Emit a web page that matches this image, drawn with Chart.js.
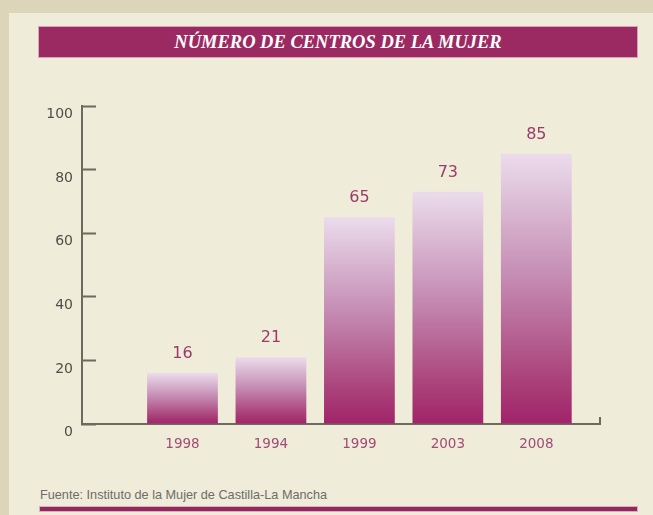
<!DOCTYPE html>
<html>
<head>
<meta charset="utf-8">
<script src="https://cdn.jsdelivr.net/npm/chart.js@4.4.1/dist/chart.umd.min.js"></script>
<style>
  html, body { margin:0; padding:0; }
  body { width:653px; height:515px; background:#dcd5b9; position:relative; overflow:hidden; }
  #panel { position:absolute; left:9px; top:13px; right:0; bottom:0; background:#efecda; }
  #title { position:absolute; left:39px; top:27px; width:598px; height:30px; background:#9c2a62;
           box-shadow:0 0 0 1px #d7a3bb; color:#fff; font:italic bold 18.5px 'Liberation Serif', serif;
           text-align:center; line-height:31px; }
  #source { position:absolute; left:40px; top:488px; font:12.7px 'Liberation Sans', Arial, sans-serif; color:#6e6d68; }
  #rule { position:absolute; left:40px; top:507px; width:597px; height:4px; background:#8e2d5b; box-shadow:0 0 0 1px #e4a8c3; }
  #c { position:absolute; left:0; top:0; }
</style>
</head>
<body>
<div id="panel"></div>
<div id="title">NÚMERO DE CENTROS DE LA MUJER</div>
<div id="source">Fuente: Instituto de la Mujer de Castilla-La Mancha</div>
<div id="rule"></div>
<canvas id="c" width="653" height="515"></canvas>
<script>
// ---- data ----
const years = ['1998', '1994', '1999', '2003', '2008'];
const centros = [16, 21, 65, 73, 85];
const yTicks = [0, 20, 40, 60, 80, 100];

const axisColor = '#6d695e';

const valueLabels = {
  id: 'valueLabels',
  afterDatasetsDraw(chart) {
    const ctx = chart.ctx;
    const meta = chart.getDatasetMeta(0);
    ctx.save();
    ctx.font = '16px "DejaVu Sans"';
    ctx.fillStyle = '#9a3b69';
    ctx.textAlign = 'center';
    ctx.textBaseline = 'middle';
    meta.data.forEach((bar, i) => {
      ctx.fillText(String(centros[i]), bar.x, bar.y - 19);
    });
    ctx.restore();
  }
};

const endTick = {
  id: 'endTick',
  afterDraw(chart) {
    const ctx = chart.ctx;
    const a = chart.chartArea;
    ctx.save();
    ctx.strokeStyle = axisColor;
    ctx.lineWidth = 2;
    ctx.beginPath();
    ctx.moveTo(a.right, a.bottom);
    ctx.lineTo(a.right, a.bottom - 7);
    ctx.stroke();
    ctx.restore();
  }
};

function barGradient(context) {
  const chart = context.chart;
  if (!chart.chartArea || context.type !== 'data') return '#c386ae';
  const ys = chart.scales.y;
  const top = ys.getPixelForValue(context.parsed.y);
  const bot = ys.getPixelForValue(0);
  const g = chart.ctx.createLinearGradient(0, top, 0, bot);
  g.addColorStop(0, '#ebdcec');
  g.addColorStop(0.45, '#c58db4');
  g.addColorStop(0.85, '#a93f78');
  g.addColorStop(1, '#a1236a');
  return g;
}

new Chart(document.getElementById('c'), {
  type: 'bar',
  data: {
    datasets: [{
      data: centros.map((v, i) => ({ x: i, y: v })),
      backgroundColor: barGradient,
      borderWidth: 0,
      barPercentage: 0.8,
      categoryPercentage: 1.0
    }]
  },
  options: {
    responsive: false,
    animation: false,
    layout: { padding: { left: 0, top: 106, right: 53, bottom: 0 } },
    plugins: { legend: { display: false }, tooltip: { enabled: false }, title: { display: false } },
    scales: {
      x: {
        type: 'linear',
        offset: false,
        min: -1.136,
        max: 4.72,
        afterBuildTicks(scale) {
          scale.ticks = years.map((_, i) => ({ value: i }));
        },
        afterFit(scale) { scale.height = 91; },
        grid: { display: false, drawTicks: false, offset: false },
        border: { display: true, color: axisColor, width: 2 },
        ticks: {
          padding: 12,
          color: '#a04c76',
          font: { family: 'DejaVu Sans', size: 13.5 },
          callback: (v) => years[v] ?? ''
        }
      },
      y: {
        min: 0,
        max: 100,
        afterBuildTicks(scale) {
          scale.ticks = yTicks.map(v => ({ value: v }));
        },
        afterFit(scale) { scale.width = 82; },
        grid: {
          display: true,
          drawOnChartArea: false,
          drawTicks: true,
          tickLength: -14,
          tickColor: axisColor,
          tickWidth: 2
        },
        border: { display: true, color: axisColor, width: 2 },
        ticks: {
          padding: 23,
          labelOffset: 8.5,
          color: '#4f4e49',
          font: { family: 'DejaVu Sans', size: 14 }
        }
      }
    }
  },
  plugins: [valueLabels, endTick]
});
</script>
</body>
</html>
